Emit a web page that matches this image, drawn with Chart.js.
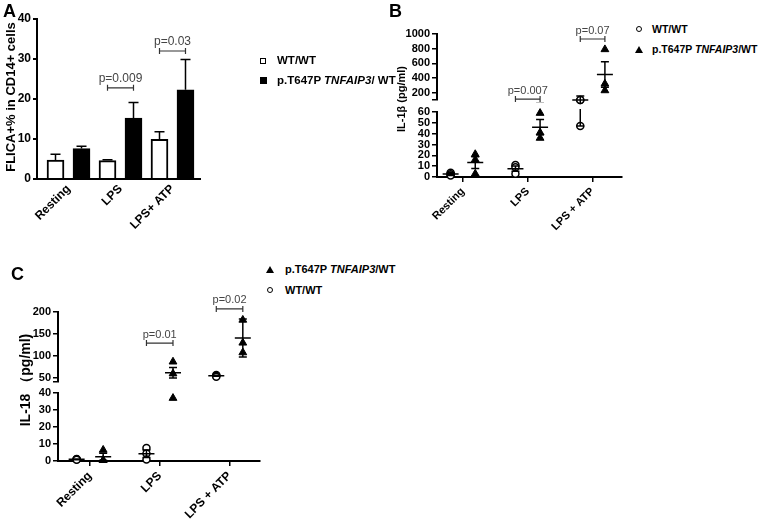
<!DOCTYPE html>
<html>
<head>
<meta charset="utf-8">
<script src="https://cdn.jsdelivr.net/npm/chart.js@4.4.1/dist/chart.umd.min.js"></script>
<style>
  body { margin: 0; background: #fff; }
  #wrap { position: relative; width: 761px; height: 519px; overflow: hidden; background: #fff; }
  canvas { position: absolute; }
  .t { position: absolute; white-space: nowrap; color: #000; font-weight: bold; font-family: "Liberation Sans", Arial, sans-serif; }
  .panel { font-size: 18px; line-height: 18px; }
  .ytitle { transform: translate(-50%, -50%) rotate(-90deg); }
  .narrow { font-family: "Liberation Sans Narrow", "Liberation Sans", Arial, sans-serif; }
  .sym { position: absolute; box-sizing: content-box; }
</style>
</head>
<body>
<div id="wrap">
  <canvas id="chA" width="205" height="229" style="left:0px;top:0px"></canvas>
  <canvas id="chBTop" width="237" height="86" style="left:390px;top:20px"></canvas>
  <canvas id="chBBot" width="237" height="126" style="left:390px;top:106px"></canvas>
  <canvas id="chCTop" width="255" height="108" style="left:10px;top:280px"></canvas>
  <canvas id="chCBot" width="255" height="134" style="left:10px;top:385px"></canvas>

  <div class="t panel" style="left:3px;top:2px">A</div>
  <div class="t panel" style="left:389px;top:2px">B</div>
  <div class="t panel" style="left:11px;top:265px">C</div>

  <div class="t ytitle" style="left:10px;top:97px;font-size:13px">FLICA+% in CD14+ cells</div>
  <div class="t ytitle" style="left:401px;top:99px;font-size:11px">IL-1β (pg/ml)</div>
  <div class="t ytitle" style="left:26px;top:380px;font-size:14px">IL-18 （pg/ml)</div>

  <!-- legend A -->
  <div class="sym" style="left:260px;top:58px;width:4px;height:4px;border:1.5px solid #000"></div>
  <div class="t narrow" style="left:277px;top:55px;font-size:11.5px;line-height:11.5px">WT/WT</div>
  <div class="sym" style="left:260px;top:77px;width:7px;height:7px;background:#000"></div>
  <div class="t narrow" style="left:277px;top:75px;font-size:11.5px;line-height:11.5px">p.T647P <i>TNFAIP3</i>/ WT</div>

  <!-- legend B -->
  <div class="sym" style="left:636px;top:25.5px;width:4px;height:4px;border:1.5px solid #000;border-radius:50%"></div>
  <div class="t" style="left:652px;top:24px;font-size:10.5px;line-height:10.5px">WT/WT</div>
  <div class="sym" style="left:635px;top:45.5px;width:0;height:0;border-left:4px solid transparent;border-right:4px solid transparent;border-bottom:7px solid #000"></div>
  <div class="t" style="left:652px;top:44px;font-size:10.5px;line-height:10.5px">p.T647P <i>TNFAIP3</i>/WT</div>

  <!-- legend C -->
  <div class="sym" style="left:266px;top:265.5px;width:0;height:0;border-left:4px solid transparent;border-right:4px solid transparent;border-bottom:7px solid #000"></div>
  <div class="t" style="left:285px;top:263.5px;font-size:11px;line-height:11px">p.T647P <i>TNFAIP3</i>/WT</div>
  <div class="sym" style="left:266.5px;top:287px;width:4px;height:4px;border:1.5px solid #000;border-radius:50%"></div>
  <div class="t" style="left:285px;top:284.5px;font-size:11px;line-height:11px">WT/WT</div>
</div>
<script>
// panel A: FLICA+ % (bars, mean + upper error)
var catsA = ["Resting", "LPS", "LPS+ ATP"];
var wtA = [4.7, 4.6, 9.9];
var wtAErr = [1.5, 0.2, 1.9];
var mutA = [7.6, 15.2, 22.3];
var mutAErr = [0.6, 3.9, 7.6];
var ticksA = [0, 10, 20, 30, 40];
var pA = ["p=0.009", "p=0.03"];

// panel B: IL-1b, individual donors + mean/error
var catsB = ["Resting", "LPS", "LPS + ATP"];
var wtB = [[4, 2.5, 1.5], [11, 9, 3], [100, 100, 47]];
var wtBMean = [2.7, 7.7, 100];
var wtBErr = [1.2, 2.4, 53];
var mutB = [[21, 16, 3], [59, 41, 36], [790, 320, 230]];
var mutBMean = [13.3, 46, 447];
var mutBErr = [5.4, 7.1, 173];
var ticksBTop = [200, 400, 600, 800, 1000];
var ticksBBot = [0, 10, 20, 30, 40, 50, 60];
var pB = ["p=0.007", "p=0.07"];

// panel C: IL-18
var catsC = ["Resting", "LPS", "LPS + ATP"];
var wtC = [[1.2, 1, 0.8], [7.6, 4.4, 0.9], [57, 55, 53]];
var wtCMean = [1, 4.3, 55];
var wtCErr = [0.2, 2.2, 1.2];
var mutC = [[6.5, 0.5, 0.5], [87, 60, 37], [182, 130, 108]];
var mutCMean = [2.5, 62, 141];
var mutCErr = [2, 12, 43];
var ticksCTop = [50, 100, 150, 200];
var ticksCBot = [0, 10, 20, 30, 40];
var pC = ["p=0.01", "p=0.02"];

var OFF = 0.19; // horizontal shift of the two genotypes around a category
var BOLD = "'Liberation Sans', Arial, sans-serif";
var NARROW = "'Liberation Sans Narrow', 'Liberation Sans', Arial, sans-serif";

// error bars, mean lines and p-value brackets
var marks = {
  id: "marks",
  afterDatasetsDraw: function (chart, args, o) {
    var ctx = chart.ctx, a = chart.chartArea, xs = chart.scales.x, ys = chart.scales.y;
    ctx.save();
    ctx.beginPath();
    ctx.rect(a.left, a.top - 3, a.right - a.left + 10, a.bottom - a.top + 6);
    ctx.clip();
    ctx.strokeStyle = "#000";
    ctx.lineWidth = 1.5;
    (o.spread || []).forEach(function (g) {
      g.mean.forEach(function (m, i) {
        var px = xs.getPixelForValue(i + 1 + g.off);
        var pm = ys.getPixelForValue(m);
        var ph = ys.getPixelForValue(m + g.err[i]);
        var pl = ys.getPixelForValue(m - g.err[i]);
        ctx.beginPath();
        ctx.moveTo(px - 8, pm); ctx.lineTo(px + 8, pm);
        ctx.moveTo(px, ph); ctx.lineTo(px, pl);
        ctx.moveTo(px - 4, ph); ctx.lineTo(px + 4, ph);
        ctx.moveTo(px - 4, pl); ctx.lineTo(px + 4, pl);
        ctx.stroke();
      });
    });
    (o.bars || []).forEach(function (b) {
      chart.getDatasetMeta(b.ds).data.forEach(function (el, i) {
        var top = ys.getPixelForValue(b.val[i] + b.err[i]);
        ctx.beginPath();
        ctx.moveTo(el.x, el.y); ctx.lineTo(el.x, top);
        ctx.moveTo(el.x - 5, top); ctx.lineTo(el.x + 5, top);
        ctx.stroke();
      });
    });
    ctx.restore();

    ctx.save();
    ctx.strokeStyle = "#333";
    ctx.fillStyle = "#444";
    ctx.lineWidth = 1.2;
    ctx.font = o.pFont || "11px " + NARROW;
    ctx.textAlign = "center";
    ctx.textBaseline = "bottom";
    (o.brackets || []).forEach(function (b) {
      var x1 = xs.getPixelForValue(b.cat + 1 - b.off);
      var x2 = xs.getPixelForValue(b.cat + 1 + b.off);
      var py = ys.getPixelForValue(b.y);
      ctx.beginPath();
      ctx.moveTo(x1, py); ctx.lineTo(x2, py);
      ctx.moveTo(x1, py - 3); ctx.lineTo(x1, py + 3);
      ctx.moveTo(x2, py - 3); ctx.lineTo(x2, py + 3);
      ctx.stroke();
      ctx.fillText(b.text, (x1 + x2) / 2, py - 3);
    });
    ctx.restore();
  }
};

// panel A, bars placed at category +/- a quarter step
new Chart(document.getElementById("chA"), {
  type: "bar",
  data: {
    datasets: [
      { label: "WT/WT", data: wtA.map(function (v, i) { return { x: i + 0.75, y: v }; }),
        backgroundColor: "#fff", borderColor: "#000", borderWidth: 2 },
      { label: "p.T647P TNFAIP3/ WT", data: mutA.map(function (v, i) { return { x: i + 1.25, y: v }; }),
        backgroundColor: "#000", borderColor: "#000", borderWidth: 2 }
    ]
  },
  options: {
    responsive: false, animation: false, events: [],
    grouped: false, barThickness: 17,
    layout: { padding: { top: 19, right: 5, left: 0, bottom: 0 } },
    plugins: {
      legend: { display: false }, tooltip: { enabled: false },
      marks: {
        bars: [{ ds: 0, val: wtA, err: wtAErr }, { ds: 1, val: mutA, err: mutAErr }],
        brackets: [{ cat: 1, off: 0.25, y: 22.8, text: pA[0] }, { cat: 2, off: 0.25, y: 32, text: pA[1] }],
        pFont: "12px " + NARROW
      }
    },
    scales: {
      x: {
        type: "linear", min: 0.394, max: 3.529, offset: false,
        afterBuildTicks: function (s) { s.ticks = catsA.map(function (c, i) { return { value: i + 1 }; }); },
        afterFit: function (s) { s.height = 50; s.paddingLeft = 0; s.paddingRight = 0; },
        ticks: { autoSkip: false, minRotation: 45, maxRotation: 45, padding: 3, color: "#000",
          font: { family: BOLD, size: 12, weight: "bold" },
          callback: function (v) { return catsA[v - 1]; } },
        grid: { drawOnChartArea: false, drawTicks: false, offset: false, color: "#000" },
        border: { color: "#000", width: 2 }
      },
      y: {
        min: 0, max: 40,
        afterBuildTicks: function (s) { s.ticks = ticksA.map(function (v) { return { value: v }; }); },
        afterFit: function (s) { s.width = 37; s.paddingTop = 0; s.paddingBottom = 0; },
        ticks: { autoSkip: false, color: "#000", padding: 2, font: { family: BOLD, size: 12, weight: "bold" } },
        grid: { drawOnChartArea: false, tickLength: 4, color: "#000", lineWidth: 2 },
        border: { color: "#000", width: 2 }
      }
    }
  },
  plugins: [marks]
});

function points(vals, off, lo, hi) {
  var out = [];
  vals.forEach(function (v, i) {
    v.forEach(function (y) { if (y >= lo && y <= hi) out.push({ x: i + 1 + off, y: y }); });
  });
  return out;
}

function dotPlot(id, s) {
  var yTicks = s.brk ? [s.lo].concat(s.ticks) : s.ticks;
  return new Chart(document.getElementById(id), {
    type: "scatter",
    data: {
      datasets: [
        { data: points(s.wt, -OFF, s.lo, s.hi), pointStyle: "circle", pointRadius: 3.5, borderWidth: 1.5,
          borderColor: "#000", backgroundColor: "#fff", clip: false },
        { data: points(s.mut, OFF, s.lo, s.hi), pointStyle: "triangle", pointRadius: 4.5, borderWidth: 1,
          borderColor: "#000", backgroundColor: "#000", clip: false }
      ]
    },
    options: {
      responsive: false, animation: false, events: [],
      layout: { padding: s.pad },
      plugins: {
        legend: { display: false }, tooltip: { enabled: false },
        marks: { spread: s.spread, brackets: s.brackets || [] }
      },
      scales: {
        x: {
          type: "linear", display: !s.brk, min: s.xMin, max: s.xMax, offset: false,
          afterBuildTicks: function (sc) { sc.ticks = s.cats.map(function (c, i) { return { value: i + 1 }; }); },
          afterFit: function (sc) {
            if (!s.brk) sc.height = s.xH;
            sc.paddingLeft = 0; sc.paddingRight = 0;
          },
          ticks: { autoSkip: false, minRotation: 45, maxRotation: 45, padding: 3, color: "#000",
            font: s.xFont, callback: function (v) { return s.cats[v - 1]; } },
          grid: { drawOnChartArea: false, tickLength: 5, color: "#000", lineWidth: 1.5 },
          border: { color: "#000", width: 2, dash: s.dash || [] }
        },
        y: {
          min: s.lo, max: s.hi,
          afterBuildTicks: function (sc) { sc.ticks = yTicks.map(function (v) { return { value: v }; }); },
          afterFit: function (sc) { sc.width = s.yW; sc.paddingTop = 0; sc.paddingBottom = 0; },
          ticks: { autoSkip: false, color: "#000", padding: 2, font: s.yFont,
            callback: function (v) { return s.brk && v === s.lo ? "" : v; } },
          grid: { drawOnChartArea: false, tickLength: 5, color: "#000", lineWidth: 1.5 },
          border: { color: "#000", width: 2 }
        }
      }
    },
    plugins: [marks]
  });
}

var spreadB = [{ mean: wtBMean, err: wtBErr, off: -OFF }, { mean: mutBMean, err: mutBErr, off: OFF }];
var spreadC = [{ mean: wtCMean, err: wtCErr, off: -OFF }, { mean: mutCMean, err: mutCErr, off: OFF }];
var yFontB = { family: NARROW, size: 11, weight: "bold" };
var yFontC = { family: BOLD, size: 11, weight: "bold" };

dotPlot("chBTop", {
  cats: catsB, wt: wtB, mut: mutB, spread: spreadB, brk: true,
  lo: 100, hi: 1000, ticks: ticksBTop, xMin: 0.6, xMax: 3.446, yW: 47, yFont: yFontB,
  pad: { top: 14, right: 5, bottom: 6, left: 0 },
  brackets: [{ cat: 1, off: OFF, y: 112, text: pB[0] }, { cat: 2, off: OFF, y: 932, text: pB[1] }]
});
dotPlot("chBBot", {
  cats: catsB, wt: wtB, mut: mutB, spread: spreadB, brk: false,
  lo: 0, hi: 60, ticks: ticksBBot, xMin: 0.6, xMax: 3.446, yW: 47, yFont: yFontB, xH: 55,
  xFont: { family: BOLD, size: 11, weight: "bold" },
  pad: { top: 6, right: 5, bottom: 0, left: 0 }
});
dotPlot("chCTop", {
  cats: catsC, wt: wtC, mut: mutC, spread: spreadC, brk: true,
  lo: 41, hi: 200, ticks: ticksCTop, xMin: 0.543, xMax: 3.429, yW: 48, yFont: yFontC,
  pad: { top: 32, right: 5, bottom: 6, left: 0 },
  brackets: [{ cat: 1, off: OFF, y: 129.5, text: pC[0] }, { cat: 2, off: OFF, y: 207, text: pC[1] }]
});
dotPlot("chCBot", {
  cats: catsC, wt: wtC, mut: mutC, spread: spreadC, brk: false,
  lo: 0, hi: 40, ticks: ticksCBot, xMin: 0.543, xMax: 3.429, yW: 48, yFont: yFontC, xH: 58,
  xFont: { family: BOLD, size: 12, weight: "bold" }, dash: [2, 1],
  pad: { top: 8, right: 5, bottom: 0, left: 0 }
});
</script>
</body>
</html>
